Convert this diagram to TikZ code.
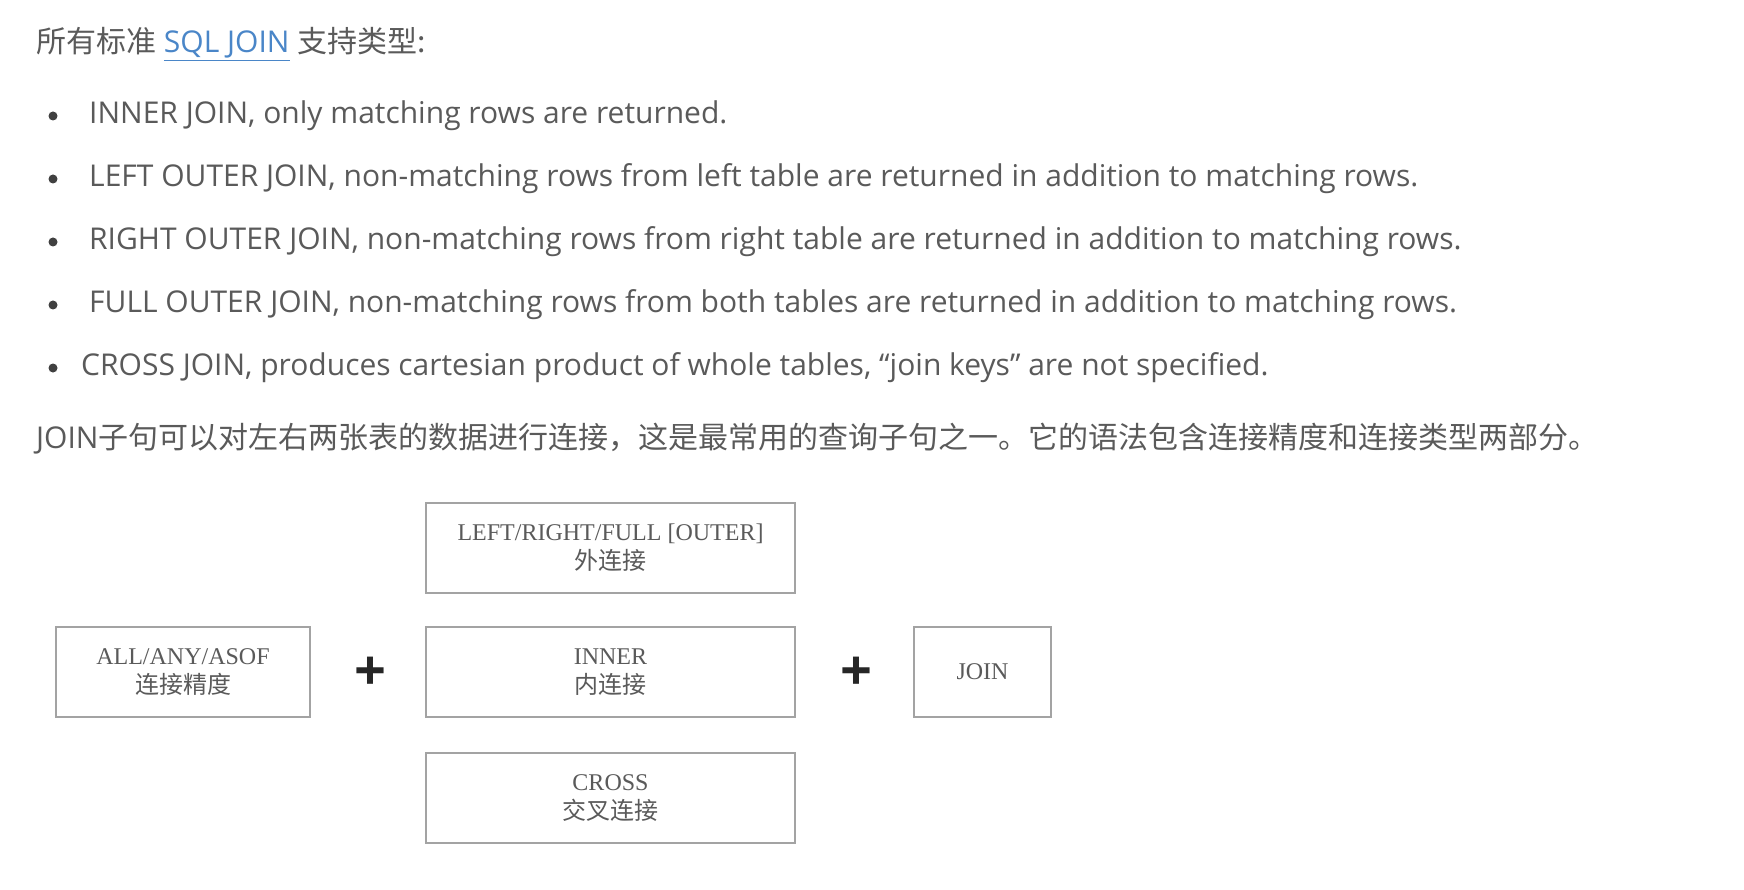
\documentclass[tikz,border=0pt]{standalone}
\usepackage{fontspec}
\setmainfont{Open Sans}
\newfontfamily\cjk{Noto Sans CJK SC}
\newfontfamily\serifbox{Liberation Serif}
\definecolor{bodytext}{HTML}{5A5A5A}
\definecolor{linkblue}{HTML}{4A86C8}
\definecolor{boxline}{HTML}{A3A3A3}
\tikzset{
  line/.style={anchor=west, inner sep=0pt, text=bodytext, font=\fontsize{30}{34}\selectfont},
  dot/.style={circle, fill=black!75, inner sep=0pt, minimum size=9pt},
  kind/.style={draw=boxline, line width=2.2pt, minimum height=90pt, align=center, text=bodytext, font=\serifbox\fontsize{24}{29}\selectfont},
  plus/.style={inner sep=0pt, text=black!85, font=\bfseries\fontsize{56}{56}\selectfont}
}
\begin{document}
\begin{tikzpicture}[x=1pt,y=-1pt]
\useasboundingbox[fill=white] (0,0) rectangle (1744,890);
% heading
\node[line] (head) at (36,44) {{\cjk 所有标准} {\color{linkblue}\underline{SQL JOIN}} {\cjk 支持类型:}};
% join kinds
\node[dot] (d1) at (53,116) {}; \node[line] (b1) at (89,116) {INNER JOIN, only matching rows are returned.};
\node[dot] (d2) at (53,179) {}; \node[line] (b2) at (89,179) {LEFT OUTER JOIN, non-matching rows from left table are returned in addition to matching rows.};
\node[dot] (d3) at (53,242) {}; \node[line] (b3) at (89,242) {RIGHT OUTER JOIN, non-matching rows from right table are returned in addition to matching rows.};
\node[dot] (d4) at (53,305) {}; \node[line] (b4) at (89,305) {FULL OUTER JOIN, non-matching rows from both tables are returned in addition to matching rows.};
\node[dot] (d5) at (53,368) {}; \node[line] (b5) at (81,368) {CROSS JOIN, produces cartesian product of whole tables, “join keys” are not specified.};
\node[line] (para) at (36,439) {JOIN{\cjk 子句可以对左右两张表的数据进行连接，这是最常用的查询子句之一。它的语法包含连接精度和连接类型两部分。}};
% syntax boxes
\node[kind, minimum width=254pt] (strict) at (183,672) {ALL/ANY/ASOF\\{\cjk 连接精度}};
\node[plus] (p1) at (370,674) {+};
\node[kind, minimum width=369pt] (outer) at (610.5,548) {LEFT/RIGHT/FULL [OUTER]\\{\cjk 外连接}};
\node[kind, minimum width=369pt] (inner) at (610.5,672) {INNER\\{\cjk 内连接}};
\node[kind, minimum width=369pt] (cross) at (610.5,798) {CROSS\\{\cjk 交叉连接}};
\node[plus] (p2) at (856,674) {+};
\node[kind, minimum width=137pt] (join) at (982.5,672) {JOIN};
\end{tikzpicture}
\end{document}
